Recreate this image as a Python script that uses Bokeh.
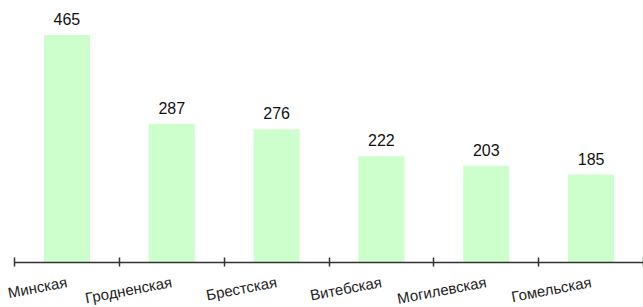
from bokeh.plotting import figure
from bokeh.models import FixedTicker, Range1d, ColumnDataSource
from bokeh.embed import file_html
from bokeh.resources import INLINE
from bokeh.core.properties import value

regions = ["Минская", "Гродненская", "Брестская", "Витебская", "Могилевская", "Гомельская"]
counts = [465, 287, 276, 222, 203, 185]

xs = [i + 0.5 for i in range(len(regions))]
src = ColumnDataSource(dict(x=xs, top=counts, lab=[str(c) for c in counts]))

p = figure(frame_width=629, frame_height=254, output_backend="svg", toolbar_location=None,
           x_range=Range1d(0, len(regions)), y_range=Range1d(8.8, 518),
           min_border_left=14, min_border_right=0, min_border_top=8, min_border_bottom=45)
p.outline_line_color = None
p.grid.grid_line_color = None
p.yaxis.visible = False

p.vbar(x="x", top="top", bottom=0, width=0.44, source=src, fill_color="#CCFFCC", line_color=None)
p.text(x="x", y="top", text="lab", source=src, text_align="center", text_baseline="alphabetic",
       y_offset=-16, text_font=value("Liberation Sans"), text_font_size="16px", text_color="#111111")

ax = p.xaxis[0]
ax.ticker = FixedTicker(ticks=xs, minor_ticks=list(range(len(regions) + 1)))
ax.major_label_overrides = {x: r for x, r in zip(xs, regions)}
ax.major_tick_line_color = None
ax.major_tick_in = 0
ax.major_tick_out = 0
ax.minor_tick_line_color = "#333333"
ax.minor_tick_line_width = 1.5
ax.minor_tick_in = 5
ax.minor_tick_out = 4
ax.axis_line_color = "#333333"
ax.axis_line_width = 1.5
ax.major_label_orientation = 0.19
ax.major_label_standoff = 15
ax.major_label_text_font = "Liberation Sans"
ax.major_label_text_font_size = "15px"
ax.major_label_text_color = "#222222"

open("out.html", "w").write(file_html(p, INLINE))
